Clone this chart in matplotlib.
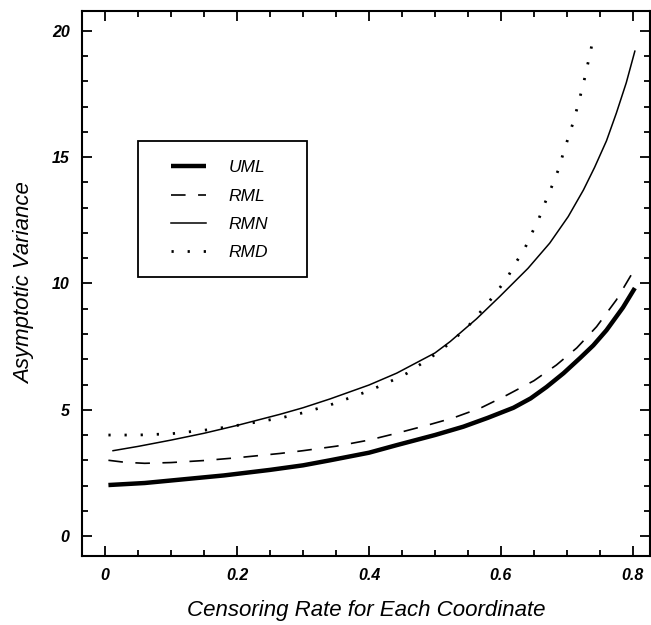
import matplotlib
matplotlib.use("Agg")
import matplotlib.pyplot as plt
from matplotlib.patches import Rectangle
from matplotlib.ticker import MultipleLocator

# data
x_uml = [0.005, 0.06, 0.12, 0.18, 0.25, 0.3, 0.341, 0.4, 0.442, 0.5, 0.543, 0.58, 0.619,
         0.645, 0.669, 0.695, 0.72, 0.74, 0.76, 0.785, 0.803]
y_uml = [2.02, 2.1, 2.25, 2.4, 2.62, 2.8, 3.0, 3.3, 3.6, 4.0, 4.33, 4.68, 5.08,
         5.45, 5.9, 6.45, 7.05, 7.55, 8.15, 9.05, 9.82]

x_rml = [0.005, 0.03, 0.06, 0.1, 0.15, 0.2, 0.265, 0.3, 0.351, 0.4, 0.442, 0.49, 0.528,
         0.57, 0.609, 0.65, 0.684, 0.715, 0.745, 0.775, 0.8]
y_rml = [3.0, 2.92, 2.88, 2.91, 2.99, 3.1, 3.27, 3.38, 3.56, 3.8, 4.07, 4.4, 4.68,
         5.08, 5.58, 6.15, 6.77, 7.45, 8.29, 9.35, 10.45]

x_rmn = [0.012, 0.05, 0.1, 0.15, 0.2, 0.265, 0.3, 0.341, 0.4, 0.442, 0.5, 0.523, 0.563,
         0.598, 0.641, 0.674, 0.702, 0.725, 0.742, 0.76, 0.775, 0.79, 0.803]
y_rmn = [3.38, 3.55, 3.8, 4.07, 4.38, 4.82, 5.08, 5.43, 5.98, 6.45, 7.25, 7.7, 8.6,
         9.48, 10.6, 11.6, 12.65, 13.7, 14.6, 15.65, 16.75, 17.95, 19.2]

x_rmd = [0.005, 0.05, 0.1, 0.16, 0.2, 0.265, 0.3, 0.341, 0.4, 0.437, 0.458, 0.503, 0.523,
         0.55, 0.578, 0.593, 0.609, 0.622, 0.636, 0.647, 0.658, 0.668, 0.678, 0.687,
         0.695, 0.703, 0.711, 0.718, 0.725, 0.73, 0.736, 0.741]
y_rmd = [4.0, 4.0, 4.05, 4.22, 4.38, 4.67, 4.88, 5.19, 5.75, 6.18, 6.45, 7.24, 7.65,
         8.3, 9.15, 9.65, 10.2, 10.8, 11.38, 12.0, 12.6, 13.27, 13.9, 14.5,
         15.2, 15.85, 16.5, 17.2, 17.9, 18.5, 19.2, 19.9]

labels = ["UML", "RML", "RMN", "RMD"]

plt.rcParams["font.family"] = ["Liberation Sans", "DejaVu Sans"]
plt.rcParams["lines.scale_dashes"] = False

fig = plt.figure(figsize=(6.51, 6.25), dpi=100)
ax = fig.add_axes([0.126, 0.1104, 0.8725, 0.872])

ax.plot(x_uml, y_uml, color="black", lw=3.2, solid_capstyle="butt", label=labels[0])
ax.plot(x_rml, y_rml, color="black", lw=1.2, linestyle=(0, (10.5, 9)), label=labels[1])
ax.plot(x_rmn, y_rmn, color="black", lw=1.1, label=labels[2])
ax.plot(x_rmd, y_rmd, color="black", lw=2.0, linestyle=(0, (1.6, 10)), label=labels[3])

ax.set_xlim(-0.035, 0.826)
ax.set_ylim(-0.79, 20.79)
ax.xaxis.set_minor_locator(MultipleLocator(0.05))
ax.yaxis.set_minor_locator(MultipleLocator(1))
ax.set_xticks([0, 0.2, 0.4, 0.6, 0.8])
ax.set_xticklabels(["0", "0.2", "0.4", "0.6", "0.8"])
ax.set_yticks([0, 5, 10, 15, 20])
ax.tick_params(which="both", direction="in", top=True, right=True, width=1.3)
ax.tick_params(which="major", length=7.5, pad=9)
ax.tick_params(which="minor", length=4.5)
for lab in ax.get_xticklabels() + ax.get_yticklabels():
    lab.set_fontsize(11.5)
    lab.set_fontstyle("italic")
    lab.set_fontweight("bold")
for sp in ax.spines.values():
    sp.set_linewidth(1.5)

ax.set_xlabel("Censoring Rate for Each Coordinate", fontsize=16, style="italic", labelpad=12)
ax.set_ylabel("Asymptotic Variance", fontsize=16, style="italic", labelpad=12)

leg = ax.legend(loc="upper left", bbox_to_anchor=(0.142, 0.742), frameon=False,
                borderpad=0, handlelength=2.0, handletextpad=1.3, labelspacing=0.75,
                prop={"size": 12.5, "style": "italic"})
ax.add_patch(Rectangle((0.0986, 0.512), 0.2975, 0.2495, transform=ax.transAxes,
                       fill=False, edgecolor="black", lw=1.3))

fig.savefig("out.png", dpi=100)
